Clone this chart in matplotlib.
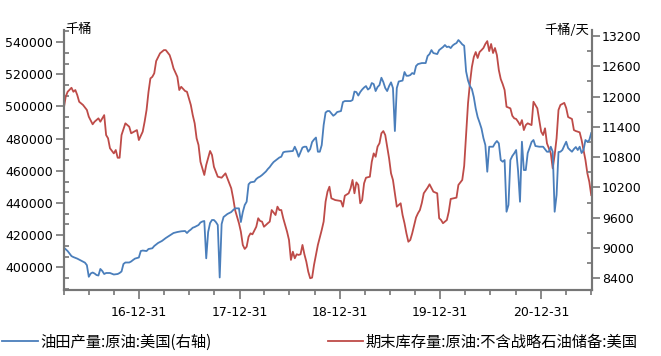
"""US crude: weekly field production (right axis) vs commercial stocks ex-SPR."""

import matplotlib

matplotlib.use("Agg")

import matplotlib.dates as mdates
import matplotlib.pyplot as plt
import numpy as np
import pandas as pd
from matplotlib.font_manager import FontProperties
from matplotlib.ticker import FixedLocator, MultipleLocator

START = pd.Timestamp("2016-04-01")

# 期末库存量:原油:不含战略石油储备:美国 (千桶), weeks since START
stock_weeks = [
    0, 1, 2, 4, 5, 6, 7, 8, 10, 12, 13, 15, 16, 18, 19, 21, 22, 23, 24, 26,
    27, 28, 29, 30, 32, 34, 35, 38, 39, 41, 42, 43, 44, 45, 46, 47, 48, 50, 52, 53,
    55, 56, 57, 59, 60, 61, 63, 64, 66, 67, 68, 69, 70, 71, 72, 73, 74, 76, 77, 78,
    80, 82, 84, 85, 87, 88, 89, 91, 92, 93, 94, 95, 96, 97, 98, 100, 101, 102, 103, 104,
    106, 107, 108, 110, 111, 112, 113, 114, 116, 117, 118, 119, 120, 121, 122, 123, 124, 125, 126, 127,
    128, 129, 130, 132, 134, 135, 136, 137, 138, 139, 141, 144, 145, 146, 148, 149, 150, 151, 152, 153,
    154, 155, 156, 157, 159, 160, 161, 162, 163, 164, 165, 166, 167, 168, 169, 170, 171, 173, 174, 175,
    176, 177, 178, 179, 180, 181, 182, 183, 184, 185, 186, 187, 189, 190, 192, 194, 195, 196, 197, 199,
    200, 201, 204, 205, 207, 208, 209, 210, 211, 212, 213, 214, 215, 216, 217, 218, 219, 220, 221, 222,
    223, 224, 225, 226, 227, 228, 229, 230, 232, 233, 234, 235, 236, 237, 238, 239, 240, 241, 243, 244,
    245, 246, 248, 249, 250, 251, 252, 253, 254, 255, 256, 257, 258, 260, 261, 262, 264, 265, 266, 268,
    269, 270, 271, 272, 273, 274,
]
stock_values = [
    498800, 506000, 509100, 511600, 509100, 510200, 507100, 502900, 500900, 497800,
    493600, 488900, 490500, 492600, 490500, 494600, 482200, 480200, 474000, 470800,
    472900, 468100, 468100, 482200, 489500, 487400, 483300, 485300, 479100, 484300,
    490500, 497800, 508900, 517400, 518400, 520600, 528200, 533000, 535000, 535000,
    531900, 528200, 523700, 518400, 510200, 512200, 509600, 509100, 500900, 494600,
    489500, 480200, 476000, 465600, 461500, 457400, 463600, 472300, 469800, 462500,
    456300, 455700, 458400, 455300, 449100, 442900, 435600, 427400, 422100, 413900,
    411400, 412800, 419000, 421100, 420500, 425200, 430500, 428800, 428400, 425200,
    427400, 428400, 435600, 432500, 437700, 435600, 435600, 430500, 422100, 417000,
    404600, 409700, 405600, 408100, 407700, 408100, 413900, 408100, 403500, 397300,
    393200, 393600, 401500, 413900, 423200, 428400, 440800, 447000, 450100, 442900,
    441800, 441200, 437700, 444500, 446000, 449100, 454300, 446000, 452800, 451200,
    439800, 441800, 452200, 455700, 456300, 465600, 470800, 468700, 475000, 477100,
    483300, 484700, 482200, 475000, 467700, 458400, 454300, 437700, 438700, 439800,
    432500, 427400, 421100, 415900, 417000, 421100, 426000, 431000, 433600, 435600,
    440000, 446000, 449500, 451600, 447000, 446000, 430500, 429400, 427400, 429400,
    434600, 442500, 443300, 451200, 454300, 463000, 482000, 502000, 514500, 524500,
    530700, 533800, 530100, 533800, 535000, 536300, 538800, 540600, 534400, 538800,
    533200, 536300, 531900, 522600, 517000, 513900, 510200, 499800, 498800, 494200,
    492600, 492200, 490500, 488400, 491500, 485300, 488400, 489500, 488400, 502900,
    500900, 498800, 484300, 482200, 486400, 477100, 474000, 470800, 461500, 469800,
    480200, 497800, 500900, 502200, 499000, 493400, 492200, 485300, 484700, 483900,
    479100, 472900, 466700, 458400, 453200, 444900,
]

# 油田产量:原油:美国 (千桶/天), weeks since START
output_weeks = [
    0, 2, 4, 5, 7, 9, 11, 12, 13, 14, 15, 16, 17, 18, 19, 20, 21, 22, 24, 26,
    28, 29, 30, 31, 32, 34, 35, 36, 37, 38, 39, 40, 41, 43, 44, 46, 47, 49, 51, 53,
    55, 57, 59, 61, 63, 64, 65, 66, 67, 68, 70, 71, 72, 73, 74, 75, 76, 77, 78, 79,
    80, 81, 82, 83, 85, 87, 88, 89, 91, 92, 93, 94, 95, 96, 97, 99, 100, 101, 102, 103,
    104, 105, 106, 107, 108, 109, 110, 111, 112, 113, 114, 115, 119, 120, 121, 122, 123, 124, 125, 126,
    127, 128, 129, 130, 131, 132, 133, 134, 135, 136, 137, 138, 140, 141, 142, 144, 145, 146, 149, 150,
    151, 152, 153, 154, 155, 156, 157, 158, 159, 160, 161, 162, 163, 164, 165, 166, 167, 168, 169, 170,
    171, 172, 173, 174, 175, 176, 177, 178, 179, 180, 181, 182, 183, 184, 186, 188, 189, 190, 191, 192,
    194, 195, 196, 197, 198, 199, 200, 201, 202, 203, 204, 205, 206, 207, 208, 209, 210, 211, 212, 213,
    214, 215, 216, 217, 218, 219, 220, 221, 223, 224, 225, 226, 227, 228, 229, 230, 231, 232, 233, 234,
    235, 236, 237, 238, 239, 240, 241, 242, 243, 244, 245, 247, 249, 251, 252, 253, 254, 255, 256, 257,
    258, 259, 260, 261, 262, 263, 264, 265, 266, 267, 268, 269, 270, 271, 272, 273, 274,
]
output_values = [
    9010, 8940, 8840, 8820, 8790, 8750, 8710, 8660, 8430, 8495,
    8515, 8495, 8465, 8455, 8585, 8545, 8485, 8505, 8505, 8475,
    8485, 8505, 8535, 8683, 8713, 8713, 8733, 8763, 8790, 8800,
    8812, 8940, 8950, 8940, 8980, 8995, 9040, 9100, 9140, 9198,
    9248, 9297, 9317, 9331, 9337, 9297, 9337, 9366, 9402, 9416,
    9456, 9505, 9525, 9535, 8796, 9317, 9495, 9555, 9555, 9515,
    9456, 8416, 9475, 9614, 9674, 9713, 9753, 9786, 9786, 9515,
    9713, 9852, 9917, 10262, 10302, 10314, 10367, 10397, 10417, 10446,
    10480, 10516, 10565, 10605, 10658, 10704, 10733, 10763, 10793, 10809,
    10896, 10908, 10922, 11007, 10922, 10809, 10902, 10991, 11007, 11007,
    10908, 10961, 11100, 11150, 11189, 10908, 10908, 11040, 11437, 11684,
    11714, 11714, 11621, 11649, 11694, 11714, 11892, 11912, 11912, 11932,
    12100, 12090, 12021, 12090, 12140, 12180, 12209, 12140, 12170, 12269,
    12249, 12110, 12190, 12229, 12374, 12289, 12170, 12110, 12209, 12283,
    12170, 11318, 12170, 12299, 12308, 12318, 12487, 12413, 12413, 12427,
    12467, 12447, 12606, 12645, 12665, 12665, 12804, 12843, 12922, 12863,
    12843, 12922, 12952, 12982, 13022, 12982, 12992, 12962, 13012, 13041,
    13061, 13121, 13081, 13035, 13008, 12500, 12318, 12209, 12150, 11991,
    11763, 11595, 11486, 11367, 11179, 11040, 10512, 11007, 11007, 11074,
    11120, 11074, 10743, 10710, 10743, 9719, 9852, 10743, 10823, 10876,
    10942, 10526, 9917, 11106, 10545, 10545, 10882, 10987, 11100, 11140,
    11021, 11007, 11007, 10908, 10908, 11007, 10908, 9719, 10050, 10902,
    10908, 10942, 11027, 11106, 10981, 10942, 10908, 10961, 11001, 10942,
    11007, 10882, 10942, 11140, 11106, 11140, 11278,
]

YEAR_ENDS = ["2016-12-31", "2017-12-31", "2018-12-31", "2019-12-31", "2020-12-31"]
YEAR_LABELS = ["16-12-31", "17-12-31", "18-12-31", "19-12-31", "20-12-31"]

STOCK_LABEL = "期末库存量:原油:不含战略石油储备:美国"
OUTPUT_LABEL = "油田产量:原油:美国(右轴)"

BLUE = "#4a7ebb"
RED = "#be4b48"
AXIS_GREY = "#767676"
CJK = ["Noto Sans CJK SC", "DejaVu Sans"]

W, H = 661, 356
LEFT, RIGHT, TOP, BOTTOM = 63.5, 591.5, 30, 290


def weeks_to_dates(weeks):
    return START + pd.to_timedelta(np.asarray(weeks) * 7, unit="D")


def style_axis(ax):
    for spine in ax.spines.values():
        spine.set_color(AXIS_GREY)
        spine.set_linewidth(1.5)
    ax.spines["top"].set_visible(False)
    ax.tick_params(axis="y", which="major", direction="out", length=6,
                   width=1.2, color=AXIS_GREY, labelsize=9, pad=1.5)
    ax.tick_params(axis="y", which="minor", direction="in", length=3.6,
                   width=1.2, color=AXIS_GREY)


fig = plt.figure(figsize=(W / 100, H / 100), dpi=100)
ax = fig.add_axes([LEFT / W, 1 - BOTTOM / H, (RIGHT - LEFT) / W, (BOTTOM - TOP) / H])
ax2 = ax.twinx()

(stock_line,) = ax.plot(weeks_to_dates(stock_weeks), stock_values,
                        color=RED, linewidth=1.3)
(output_line,) = ax2.plot(weeks_to_dates(output_weeks), output_values,
                          color=BLUE, linewidth=1.3)

ax.set_xlim(pd.Timestamp("2016-03-31"), pd.Timestamp("2021-07-03"))
ax.set_ylim(385900, 547500)
ax2.set_ylim(8168, 13320)

ax.yaxis.set_major_locator(MultipleLocator(20000))
ax.yaxis.set_minor_locator(MultipleLocator(20000 / 3))
ax2.yaxis.set_major_locator(MultipleLocator(600))
ax2.yaxis.set_minor_locator(MultipleLocator(300))

year_ticks = mdates.date2num(pd.to_datetime(YEAR_ENDS))
quarter_ticks = mdates.date2num(pd.date_range("2016-03-31", "2021-06-30", freq="QE"))
ax.xaxis.set_major_locator(FixedLocator(year_ticks))
ax.xaxis.set_minor_locator(FixedLocator(quarter_ticks))
ax.set_xticklabels(YEAR_LABELS)

style_axis(ax)
style_axis(ax2)
ax.tick_params(axis="x", which="major", direction="out", length=6.5,
               width=1.2, color=AXIS_GREY, labelsize=9, pad=5)
ax.tick_params(axis="x", which="minor", direction="out", length=3.6,
               width=1.2, color=AXIS_GREY)

fig.text(65 / W, 1 - 30 / H, "千桶", family=CJK, fontsize=9.5,
         ha="left", va="center")
fig.text(589 / W, 1 - 30 / H, "千桶/天", family=CJK, fontsize=9.5,
         ha="right", va="center")

fig.legend([output_line, stock_line], [OUTPUT_LABEL, STOCK_LABEL],
           loc="center left", bbox_to_anchor=(2 / W, 1 - 342 / H), ncol=2,
           frameon=False, prop=FontProperties(family=CJK, size=11),
           handlelength=2.35, handletextpad=0.15, columnspacing=7.6,
           borderpad=0, borderaxespad=0)

fig.savefig("out.png", dpi=100)
